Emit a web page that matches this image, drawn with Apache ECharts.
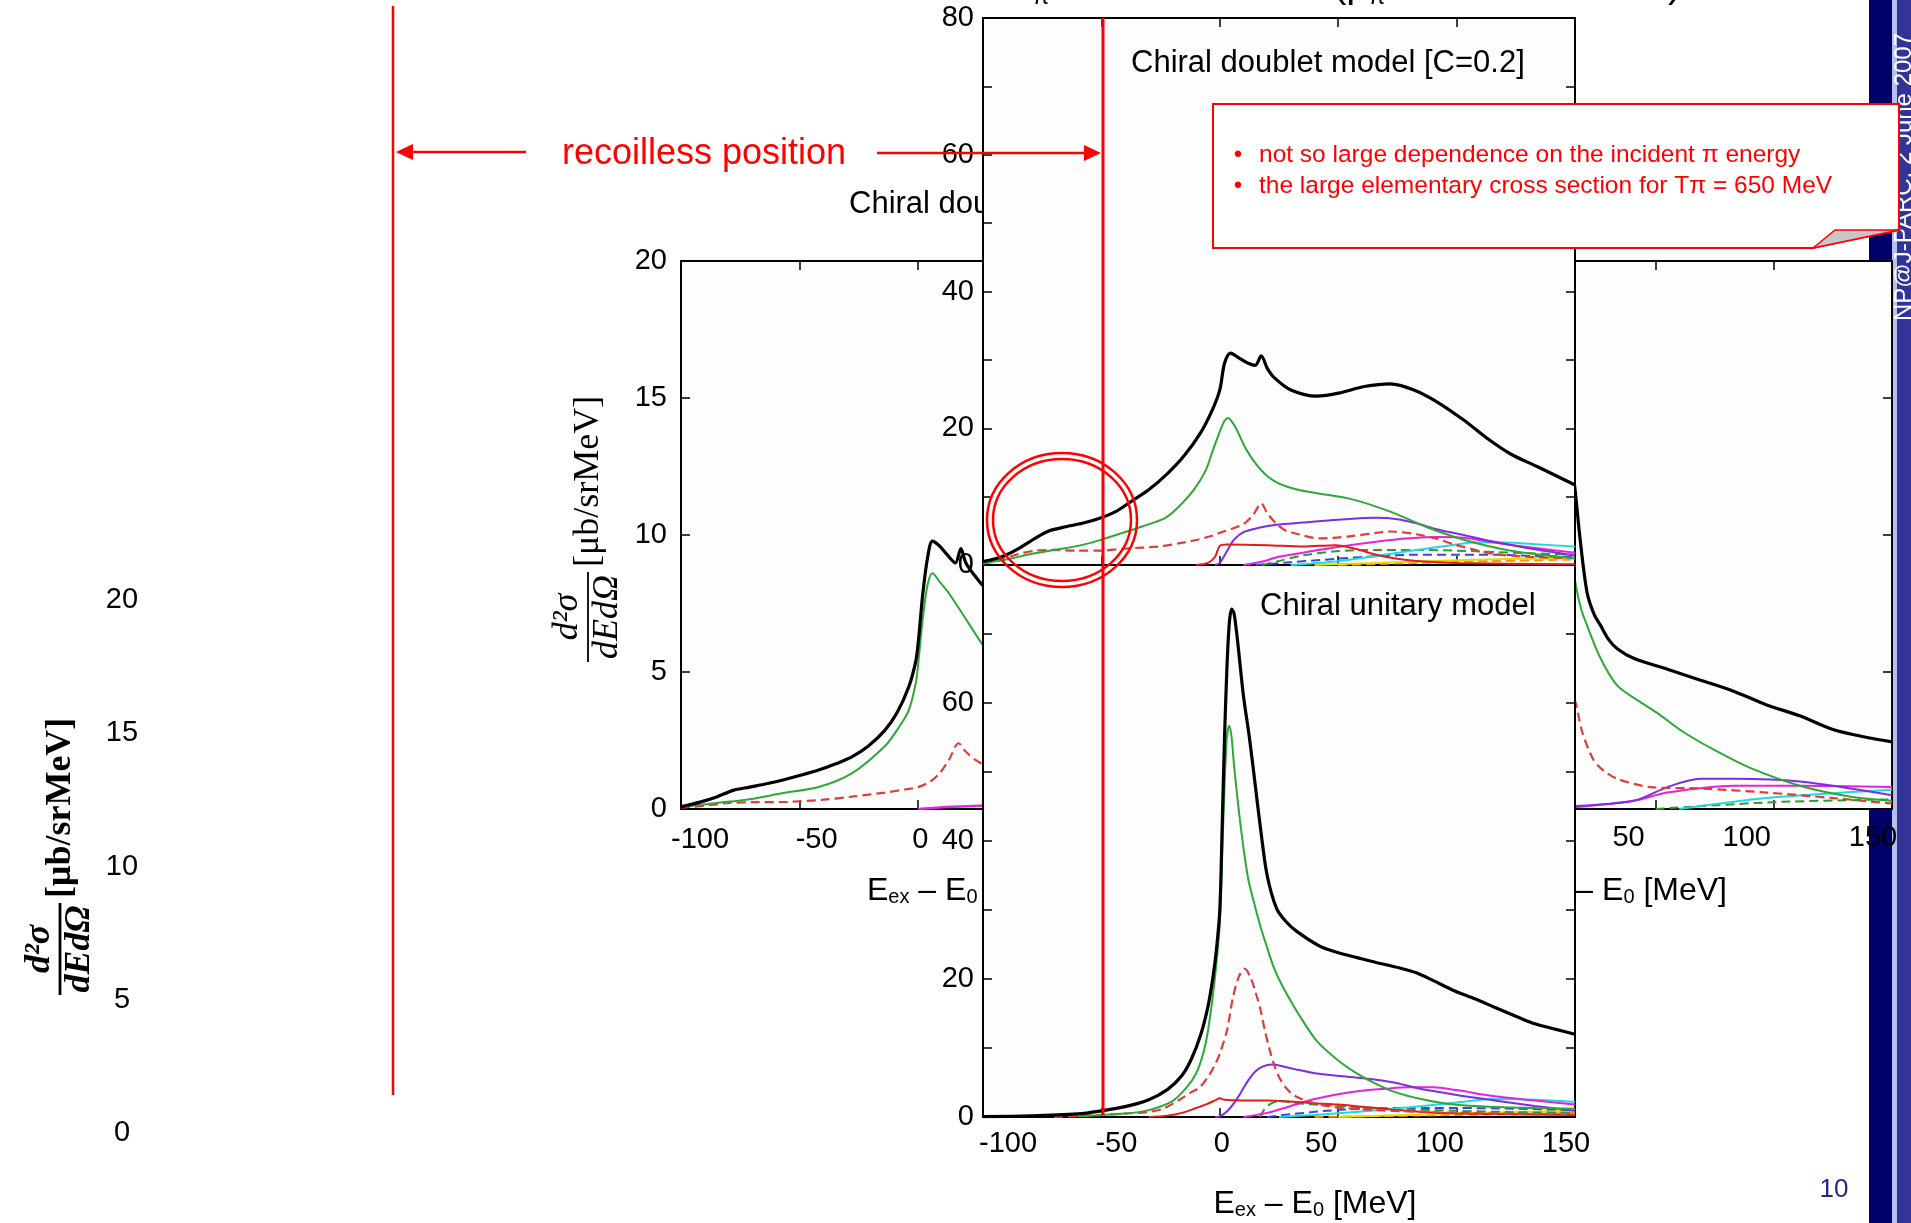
<!DOCTYPE html>
<html>
<head>
<meta charset="utf-8">
<script src="https://cdn.jsdelivr.net/npm/echarts@6/dist/echarts.min.js"></script>
<style>
  html, body { margin: 0; padding: 0; background: #fff; }
  #main { width: 1911px; height: 1223px; }
</style>
</head>
<body>
<div id="main"></div>
<script>
// ---- front chart, top panel: chiral doublet model [C=0.2]  ([E - E0 MeV, d2sigma])
const dblBlack = [[-100,0.5],[-92,1.2],[-85,2.4],[-78,3.9],[-72,5.0],[-65,5.6],[-58,6.1],[-51,6.8],[-44,7.8],[-37,9.4],[-30,11.0],[-22,13.4],[-15,16.0],[-8,19.4],[-3,22.8],[0,25.6],[2,29.5],[4.5,31.0],[8,30.3],[12,29.5],[15,29.2],[17.5,30.6],[20,28.8],[23,27.4],[30,25.6],[41,24.7],[51,25.2],[61,26.1],[72,26.5],[82,25.6],[92,23.8],[103,21.2],[113,18.5],[123,16.2],[134,14.4],[150,11.7]];
const dblGreen = [[-100,0.3],[-90,0.8],[-80,1.6],[-70,2.2],[-60,2.8],[-51,3.6],[-42,4.6],[-33,5.6],[-23,6.9],[-18,8.3],[-11,11.0],[-6,13.8],[-3,16.7],[0,19.5],[2,21.1],[3.6,21.5],[5,21.0],[7,19.9],[11,17.0],[15,14.9],[20,13.0],[25,11.9],[33,11.0],[41,10.5],[56,9.6],[72,7.8],[87,5.6],[103,3.7],[123,2.1],[150,1.0]];
const dblRedDash = [[-100,0.2],[-92,0.8],[-85,1.6],[-78,2.1],[-70,2.2],[-60,2.1],[-50,2.1],[-40,2.4],[-26,2.7],[-15,3.3],[-9.5,3.7],[-4,4.2],[0,4.7],[5,5.3],[10,6.0],[14,7.3],[17.5,9.0],[20,7.6],[24,6.0],[28,5.0],[32,4.6],[42,3.9],[55,4.2],[66,4.7],[72,4.9],[83,4.5],[92,3.8],[99,3.0],[108,2.2],[116,1.6],[130,1.2],[150,1.0]];
const dblRed = [[-10,0],[-5,0.3],[-2,1.2],[0,2.8],[3,3.0],[20,2.9],[35,2.7],[49,2.9],[58,2.3],[66,1.5],[75,0.9],[83,0.6],[100,0.3],[150,0.1]];
const dblPurple = [[-2,0],[0,0.3],[3,2.0],[6,3.7],[10,4.8],[16,5.4],[24,5.9],[35,6.2],[50,6.6],[66,6.9],[75,6.7],[83,6.1],[92,5.2],[100,4.6],[116,3.4],[133,2.3],[150,1.4]];
const dblMagenta = [[10,0],[18,0.5],[25,1.2],[35,1.8],[49,2.6],[66,3.4],[80,3.9],[92,4.1],[103,4.0],[116,3.3],[128,2.7],[150,1.8]];
const dblCyan = [[30,0],[49,0.5],[66,1.3],[83,2.2],[100,3.0],[108,3.3],[120,3.3],[135,3.0],[150,2.7]];
const dblGreenDash = [[18,0],[24,0.5],[35,1.4],[49,2.0],[66,2.2],[83,2.2],[100,2.1],[116,1.9],[133,1.7],[150,1.5]];
const dblBlueDash = [[15,0],[30,0.4],[49,0.9],[66,1.3],[83,1.5],[100,1.5],[116,1.5],[133,1.3],[150,1.2]];
const dblYellow = [[40,0],[66,0.3],[100,0.7],[125,0.9],[150,1.0]];
const dblOrange = [[50,0],[83,0.3],[116,0.6],[150,0.8]];

// ---- front chart, bottom panel: chiral unitary model
const uniBlack = [[-100,0.05],[-80,0.15],[-60,0.45],[-50,0.9],[-40,1.5],[-30,2.5],[-22,4.0],[-16,6.0],[-12,8.4],[-8,12.0],[-5,16.0],[-3,20.0],[-1.5,24.0],[0,30.0],[1,42.0],[2,55.0],[3,65.0],[4,71.5],[5,73.6],[6,73.0],[7.5,69.0],[10,61.0],[12.5,55.0],[15,48.0],[17.5,41.0],[20,35.0],[24,30.2],[28,28.3],[32.5,26.9],[42,24.8],[49,23.9],[58,23.1],[66,22.4],[76,21.6],[83,20.9],[90,19.8],[99,18.3],[108,17.1],[116,15.9],[125,14.6],[133,13.5],[142,12.7],[150,12.0]];
const uniGreen = [[-60,0.1],[-40,0.5],[-30,1.0],[-20,2.3],[-14,4.3],[-10,6.3],[-7,9.2],[-5,12.5],[-3,17.4],[-1.5,22.0],[0,28.0],[1,38.0],[2,48.0],[3,55.0],[4,56.7],[5,55.0],[6,51.0],[8,44.5],[10,39.0],[12,34.5],[14.2,31.4],[17,27.8],[19.2,25.4],[23,21.5],[27.5,18.3],[34,14.5],[41,11.0],[50,8.2],[58,6.3],[66,4.8],[74,3.6],[85,2.6],[99,1.8],[120,1.4],[150,1.2]];
const uniRedDash = [[-70,0],[-50,0.3],[-40,0.5],[-31,0.7],[-24,1.2],[-17,2.5],[-12,3.6],[-8.5,4.3],[-5,5.8],[-2,7.6],[0,9.2],[3,12.5],[5.6,17.4],[8,20.3],[10.5,21.5],[13,20.2],[15,18.2],[17,15.8],[19,12.6],[21,9.8],[23,7.5],[25,5.8],[28,4.2],[32,3.0],[38,2.2],[45,1.6],[60,1.1],[80,0.8],[100,0.6],[150,0.3]];
const uniRed = [[-30,0],[-22,0.2],[-16,0.6],[-10,1.3],[-6,1.8],[-2,2.4],[0,2.7],[2,2.5],[10,2.4],[20,2.4],[31,2.2],[40,2.0],[50,1.8],[66,1.3],[83,0.8],[100,0.5],[150,0.3]];
const uniPurple = [[-2,0],[0,0.1],[3,0.8],[6,2.0],[9,3.6],[12,5.3],[15,6.6],[18,7.3],[22,7.6],[26,7.4],[32,6.9],[41,6.3],[55,5.8],[66,5.4],[75,4.9],[83,4.2],[100,3.2],[116,2.4],[133,1.6],[150,0.9]];
const uniMagenta = [[10,0],[20,0.6],[30,1.6],[40,2.6],[50,3.3],[60,3.8],[70,4.1],[80,4.3],[90,4.3],[100,3.9],[116,3.0],[133,2.4],[150,1.8]];
const uniCyan = [[25,0],[40,0.3],[60,0.8],[80,1.4],[100,2.1],[116,2.6],[133,2.5],[150,2.2]];
const uniGreenDash = [[17,0],[19,1.2],[22,2.0],[26,2.3],[32,2.0],[45,1.7],[60,1.4],[80,1.1],[100,0.9],[125,0.7],[150,0.6]];
const uniBlueDash = [[20,0],[30,0.4],[45,0.9],[60,1.2],[80,1.3],[100,1.3],[125,1.2],[150,1.0]];
const uniYellow = [[50,0],[80,0.3],[110,0.6],[150,0.9]];
const uniOrange = [[40,0],[80,0.2],[120,0.4],[150,0.6]];

// ---- back chart, left (only the part left of the front chart is visible)
const bkLBlack = [[-100,0.08],[-92,0.25],[-85,0.44],[-78,0.68],[-71,0.8],[-64,0.92],[-57,1.06],[-50,1.22],[-42,1.42],[-35,1.64],[-28,1.9],[-21,2.3],[-14,2.88],[-9,3.5],[-4,4.45],[-1,5.4],[0,6.06],[2,7.9],[4,9.2],[6,9.78],[9,9.6],[12,9.3],[15.7,8.98],[18,9.5],[20,9.0],[24,8.5],[28,8.1],[35,7.8]];
const bkLGreen = [[-100,0.07],[-85,0.22],[-71,0.36],[-57,0.58],[-42,0.8],[-28,1.3],[-14,2.3],[-8,3.0],[-4,3.6],[-1,4.6],[0,5.3],[2,7.0],[4,8.2],[6,8.6],[9,8.3],[12.7,7.9],[19.6,7.0],[28,5.9],[35,5.3]];
const bkLRedDash = [[-100,0.05],[-90,0.12],[-80,0.22],[-70,0.25],[-55,0.26],[-40,0.34],[-28,0.45],[-14,0.6],[-5,0.72],[0,0.8],[5,1.0],[9,1.3],[13,1.8],[17,2.4],[20,2.1],[24,1.8],[28,1.6],[35,1.4]];
const bkLPurple = [[0,0],[15,0.08],[35,0.15]];

// ---- back chart, right (only the part right of the front chart is visible)
const bkRBlack = [[14,13.0],[16,11.6],[18,9.9],[21,7.9],[24,7.1],[26.7,6.7],[30,6.2],[33.8,5.85],[40.7,5.5],[55,5.1],[69,4.7],[83,4.3],[97,3.8],[111,3.4],[125,2.9],[140,2.6],[150,2.45]];
const bkRGreen = [[14,9.5],[16.4,8.1],[18.5,7.3],[21,6.7],[26.7,5.5],[33.8,4.5],[43.6,3.9],[50.8,3.5],[61.9,2.8],[76,2.1],[90,1.5],[111,0.85],[132.6,0.45],[150,0.3]];
const bkRRedDash = [[14,4.5],[16.4,3.8],[19,2.8],[23.7,1.8],[28,1.4],[33.8,1.1],[47.9,0.8],[69,0.75],[97,0.6],[125,0.4],[150,0.2]];
const bkRPurple = [[14,0.1],[40.7,0.3],[55,0.8],[69,1.1],[83,1.1],[111,1.0],[150,0.5]];
const bkRMagenta = [[14,0.05],[40.7,0.3],[55,0.6],[83,0.85],[111,0.85],[150,0.8]];
const bkRCyan = [[60,0],[97,0.4],[150,0.7]];
const bkRGreenDash = [[50,0],[100,0.25],[150,0.35]];

const SANS = "'Liberation Sans', Arial, sans-serif";
const SERIF = "'Liberation Serif', 'DejaVu Serif', serif";
const RED = '#ff0000';

const C = {
  black: '#000000', green: '#2fa83a', redDash: '#e03c3c', red: '#e41b1b',
  purple: '#7a2fe0', magenta: '#e322e3', cyan: '#22d8e0', blueDash: '#3048e8',
  greenDash: '#2f9a2f', yellow: '#e8d800', orange: '#ff8a00'
};

// tick labels in the slide are shifted a little off their ticks
const nudgeFront = {'-100': 25, '-50': 15, '0': 2, '50': -17, '100': -17, '150': -9};
const nudgeBackL = {'-100': 19, '-50': 17, '0': 2, '50': -10, '100': -10, '150': -5};
const nudgeBackR = {'-100': 0, '-50': 0, '0': 0, '50': -27, '100': -27, '150': -19};

function nudged(nudge, size) {
  const keys = Object.keys(nudge);
  const rich = {};
  keys.forEach((k, i) => {
    const d = nudge[k];
    rich['t' + i] = {fontSize: size, fontFamily: SANS, color: '#000',
      padding: d >= 0 ? [0, 0, 0, 2 * d] : [0, -2 * d, 0, 0]};
  });
  return {
    formatter: v => { const i = keys.indexOf(String(v)); return i < 0 ? String(v) : '{t' + i + '|' + v + '}'; },
    rich: rich
  };
}

const tick = {show: true, inside: true, length: 9, lineStyle: {color: '#000', width: 1.5}};
const hidden = {show: false};
const noAxisLine = {show: false, onZero: false};

const xName = '{e|E}{s|ex}{e| \u2013 E}{s|0}{e| [MeV]}';
function xNameStyle(pad) {
  return {
    padding: pad,
    rich: {
      e: {fontSize: 32, fontFamily: SANS, color: '#000', lineHeight: 44, verticalAlign: 'bottom'},
      s: {fontSize: 20, fontFamily: SANS, color: '#000', lineHeight: 22, verticalAlign: 'bottom'}
    }
  };
}

function xAx(grid, z, extra) {
  return Object.assign({gridIndex: grid, type: 'value', min: -100, max: 150, interval: 50, zlevel: z,
    axisLine: noAxisLine, axisTick: tick, splitLine: hidden, axisLabel: {show: false}}, extra || {});
}
function yAx(grid, z, max, step, extra) {
  return Object.assign({gridIndex: grid, type: 'value', min: 0, max: max, interval: step, zlevel: z,
    axisLine: noAxisLine, axisTick: tick, splitLine: hidden, axisLabel: {show: false}}, extra || {});
}

function line(data, xi, yi, z, color, width, dashed) {
  return {type: 'line', data: data, xAxisIndex: xi, yAxisIndex: yi, zlevel: z,
    symbol: 'none', showSymbol: false, smooth: 0.3, silent: true, clip: true,
    lineStyle: {color: color, width: width, type: dashed ? [9, 5] : 'solid'}};
}
function zeroLine(s) {
  s.markLine = {silent: true, symbol: ['none', 'none'], label: {show: false},
    lineStyle: {color: '#9a9a9a', type: 'dotted', width: 1.2}, data: [{xAxis: 0}]};
  return s;
}

const gridBox = {show: true, backgroundColor: '#fdfdfd', borderColor: '#000', borderWidth: 2, outerBoundsMode: 'none'};

const yLabel = {show: true, fontSize: 29, fontFamily: SANS, color: '#000'};

// rotated y title:  d2sigma / dEdOmega  [mu b/srMeV]
function yTitle(cx, cy, fw, size, bold, z) {
  const w = bold ? 'bold' : 'normal';
  const t = (x, y, s, italic, align, valign) => ({
    type: 'text', x: x, y: y,
    style: {text: s, fill: '#000', fontSize: size, fontFamily: SERIF, fontWeight: w,
      fontStyle: italic ? 'italic' : 'normal',
      align: align, textAlign: align, verticalAlign: valign, textVerticalAlign: valign}
  });
  return {
    type: 'group', x: cx, y: cy, rotation: Math.PI / 2, zlevel: z, z: 50,
    children: [
      t(fw / 2, -2, 'd\u00B2\u03C3', true, 'center', 'bottom'),
      {type: 'line', shape: {x1: 0, y1: 0, x2: fw, y2: 0}, style: {stroke: '#000', lineWidth: bold ? 2.8 : 1.8}},
      t(fw / 2, 2, 'dEd\u03A9', true, 'center', 'top'),
      t(fw + 5, 1, '[\u03BCb/srMeV]', false, 'left', 'middle')
    ]
  };
}

function txt(x, y, s, size, color, z, align, extra) {
  return Object.assign({type: 'text', x: x, y: y, zlevel: z, z: 100,
    style: {text: s, fill: color, fontSize: size, fontFamily: SANS,
      align: align || 'left', textAlign: align || 'left', verticalAlign: 'middle', textVerticalAlign: 'middle'}}, extra || {});
}

const option = {
  animation: false,
  backgroundColor: '#ffffff',
  grid: [
    {left: 146, top: 600, width: 1, height: 533, zlevel: 0, outerBoundsMode: 'none'},
    Object.assign({left: 681, top: 261, width: 593, height: 548, zlevel: 1}, gridBox),
    Object.assign({left: 1301, top: 261, width: 591, height: 548, zlevel: 1}, gridBox),
    Object.assign({left: 983, top: 18, width: 592, height: 547, zlevel: 2}, gridBox),
    Object.assign({left: 983, top: 565, width: 592, height: 552, zlevel: 2}, gridBox)
  ],
  xAxis: [
    {gridIndex: 0, type: 'value', show: false, min: 0, max: 1, zlevel: 0},
    xAx(1, 1, {axisLabel: Object.assign({show: true, margin: 16}, nudged(nudgeBackL, 29)),
      name: xName, nameLocation: 'middle', nameGap: 54, nameTextStyle: xNameStyle([0, 18, 0, 0])}),
    xAx(1, 1, {position: 'top'}),
    xAx(2, 1, {axisLabel: Object.assign({show: true, margin: 14}, nudged(nudgeBackR, 29)),
      name: xName, nameLocation: 'middle', nameGap: 54, nameTextStyle: xNameStyle([0, 0, 0, 58])}),
    xAx(2, 1, {position: 'top'}),
    xAx(3, 2, {}),
    xAx(3, 2, {position: 'top'}),
    xAx(4, 2, {axisLabel: Object.assign({show: true, margin: 12}, nudged(nudgeFront, 29)),
      name: xName, nameLocation: 'middle', nameGap: 59, nameTextStyle: xNameStyle([0, 0, 0, 72])})
  ],
  yAxis: [
    {gridIndex: 0, type: 'value', min: 0, max: 20, interval: 5, zlevel: 0, axisLine: noAxisLine, axisTick: hidden,
      splitLine: hidden, axisLabel: Object.assign({}, yLabel, {align: 'center', margin: 24})},
    yAx(1, 1, 20, 5, {axisLabel: Object.assign({}, yLabel, {margin: 14})}),
    yAx(1, 1, 20, 5, {position: 'right'}),
    yAx(2, 1, 20, 5, {axisLabel: Object.assign({}, yLabel, {margin: 14})}),
    yAx(2, 1, 20, 5, {position: 'right'}),
    yAx(3, 2, 80, 10, {axisLabel: Object.assign({}, yLabel, {margin: 9, formatter: v => v % 20 === 0 ? String(v) : ''})}),
    yAx(3, 2, 80, 10, {position: 'right'}),
    yAx(4, 2, 80, 10, {axisLabel: Object.assign({}, yLabel, {margin: 9, formatter: v => (v % 20 === 0 && v < 80) ? String(v) : ''})}),
    yAx(4, 2, 80, 10, {position: 'right'})
  ],
  series: [
    {type: 'line', data: [], xAxisIndex: 0, yAxisIndex: 0, zlevel: 0},

    zeroLine(line(bkLPurple, 1, 1, 1, C.magenta, 2.5)),
    line(bkLRedDash, 1, 1, 1, C.redDash, 2.2, true),
    line(bkLGreen, 1, 1, 1, C.green, 2),
    line(bkLBlack, 1, 1, 1, C.black, 3.2),

    zeroLine(line(bkRGreenDash, 3, 3, 1, C.greenDash, 2, true)),
    line(bkRCyan, 3, 3, 1, C.cyan, 2),
    line(bkRMagenta, 3, 3, 1, C.magenta, 2),
    line(bkRPurple, 3, 3, 1, C.purple, 2),
    line(bkRRedDash, 3, 3, 1, C.redDash, 2.2, true),
    line(bkRGreen, 3, 3, 1, C.green, 2),
    line(bkRBlack, 3, 3, 1, C.black, 3.2),

    zeroLine(line(dblOrange, 5, 5, 2, C.orange, 2, true)),
    line(dblYellow, 5, 5, 2, C.yellow, 2),
    line(dblBlueDash, 5, 5, 2, C.blueDash, 2, true),
    line(dblGreenDash, 5, 5, 2, C.greenDash, 2, true),
    line(dblCyan, 5, 5, 2, C.cyan, 2),
    line(dblMagenta, 5, 5, 2, C.magenta, 2),
    line(dblPurple, 5, 5, 2, C.purple, 2),
    line(dblRed, 5, 5, 2, C.red, 2),
    line(dblRedDash, 5, 5, 2, C.redDash, 2.2, true),
    line(dblGreen, 5, 5, 2, C.green, 2),
    line(dblBlack, 5, 5, 2, C.black, 3.2),

    zeroLine(line(uniOrange, 7, 7, 2, C.orange, 2, true)),
    line(uniYellow, 7, 7, 2, C.yellow, 2),
    line(uniBlueDash, 7, 7, 2, C.blueDash, 2, true),
    line(uniGreenDash, 7, 7, 2, C.greenDash, 2, true),
    line(uniCyan, 7, 7, 2, C.cyan, 2),
    line(uniMagenta, 7, 7, 2, C.magenta, 2),
    line(uniPurple, 7, 7, 2, C.purple, 2),
    line(uniRed, 7, 7, 2, C.red, 2),
    line(uniRedDash, 7, 7, 2, C.redDash, 2.2, true),
    line(uniGreen, 7, 7, 2, C.green, 2),
    line(uniBlack, 7, 7, 2, C.black, 3.2)
  ],
  graphic: [
    // slide side band
    {type: 'rect', zlevel: 0, shape: {x: 1869, y: 0, width: 23, height: 1223}, style: {fill: '#00006b'}},
    {type: 'rect', zlevel: 0, shape: {x: 1892, y: 0, width: 5, height: 1223}, style: {fill: '#b4c0ee'}},
    {type: 'rect', zlevel: 0, shape: {x: 1897, y: 0, width: 14, height: 1223}, style: {fill: '#33339a'}},
    txt(1904, 177, 'NP@J-PARC, 2 June 2007', 24, '#ffffff', 0, 'center', {rotation: Math.PI / 2}),
    txt(1834, 1190, '10', 26, '#26268a', 0, 'center'),

    // slide heading cut off at the top edge (only its lowest parts show)
    txt(1041, -3, '\u03C0', 24, '#000', 0, 'center'),
    txt(1333, -14, '(p', 40, '#000', 0, 'left'),
    txt(1377, -3, '\u03C0', 24, '#000', 0, 'center'),
    txt(1668, -14, ')', 40, '#000', 0, 'left'),

    yTitle(60, 995, 92, 36, true, 0),
    yTitle(588, 662, 90, 36, false, 1),
    txt(849, 204, 'Chiral doublet model', 31, '#000', 1),

    txt(1131, 63, 'Chiral doublet model [C=0.2]', 31, '#000', 2),
    txt(1260, 606, 'Chiral unitary model', 31, '#000', 2),

    // recoilless position markers
    {type: 'line', zlevel: 3, shape: {x1: 393, y1: 6, x2: 393, y2: 1095}, style: {stroke: RED, lineWidth: 2.5}},
    {type: 'line', zlevel: 3, shape: {x1: 1103, y1: 18, x2: 1103, y2: 1115}, style: {stroke: RED, lineWidth: 3}},
    {type: 'line', zlevel: 3, shape: {x1: 408, y1: 152, x2: 526, y2: 152}, style: {stroke: RED, lineWidth: 2.5}},
    {type: 'polygon', zlevel: 3, shape: {points: [[396, 152], [413, 144], [413, 160]]}, style: {fill: RED}},
    {type: 'line', zlevel: 3, shape: {x1: 877, y1: 153, x2: 1088, y2: 153}, style: {stroke: RED, lineWidth: 2.5}},
    {type: 'polygon', zlevel: 3, shape: {points: [[1101, 153], [1084, 145], [1084, 161]]}, style: {fill: RED}},
    txt(562, 154, 'recoilless position', 36, RED, 3),

    {type: 'ellipse', zlevel: 3, shape: {cx: 1062, cy: 520, rx: 75, ry: 67}, style: {fill: 'none', stroke: RED, lineWidth: 2.5}},
    {type: 'ellipse', zlevel: 3, shape: {cx: 1062, cy: 520, rx: 69, ry: 61}, style: {fill: 'none', stroke: RED, lineWidth: 2.5}},

    // callout
    {type: 'polygon', zlevel: 3, shape: {points: [[1213, 104], [1899, 104], [1899, 230], [1813, 248], [1213, 248]]},
      style: {fill: '#ffffff', stroke: RED, lineWidth: 2}},
    {type: 'polygon', zlevel: 3, shape: {points: [[1813, 248], [1835, 230], [1899, 230]]},
      style: {fill: '#c8c8c8', stroke: RED, lineWidth: 1.5}},
    txt(1238, 155, '\u2022', 24, RED, 3, 'center'),
    txt(1238, 186, '\u2022', 24, RED, 3, 'center'),
    txt(1259, 155, 'not so large dependence on the incident \u03C0 energy', 24.5, RED, 3),
    txt(1259, 186, 'the large elementary cross section for T\u03C0 = 650 MeV', 24.5, RED, 3)
  ]
};

const chart = echarts.init(document.getElementById('main'));
chart.setOption(option);
</script>
</body>
</html>
